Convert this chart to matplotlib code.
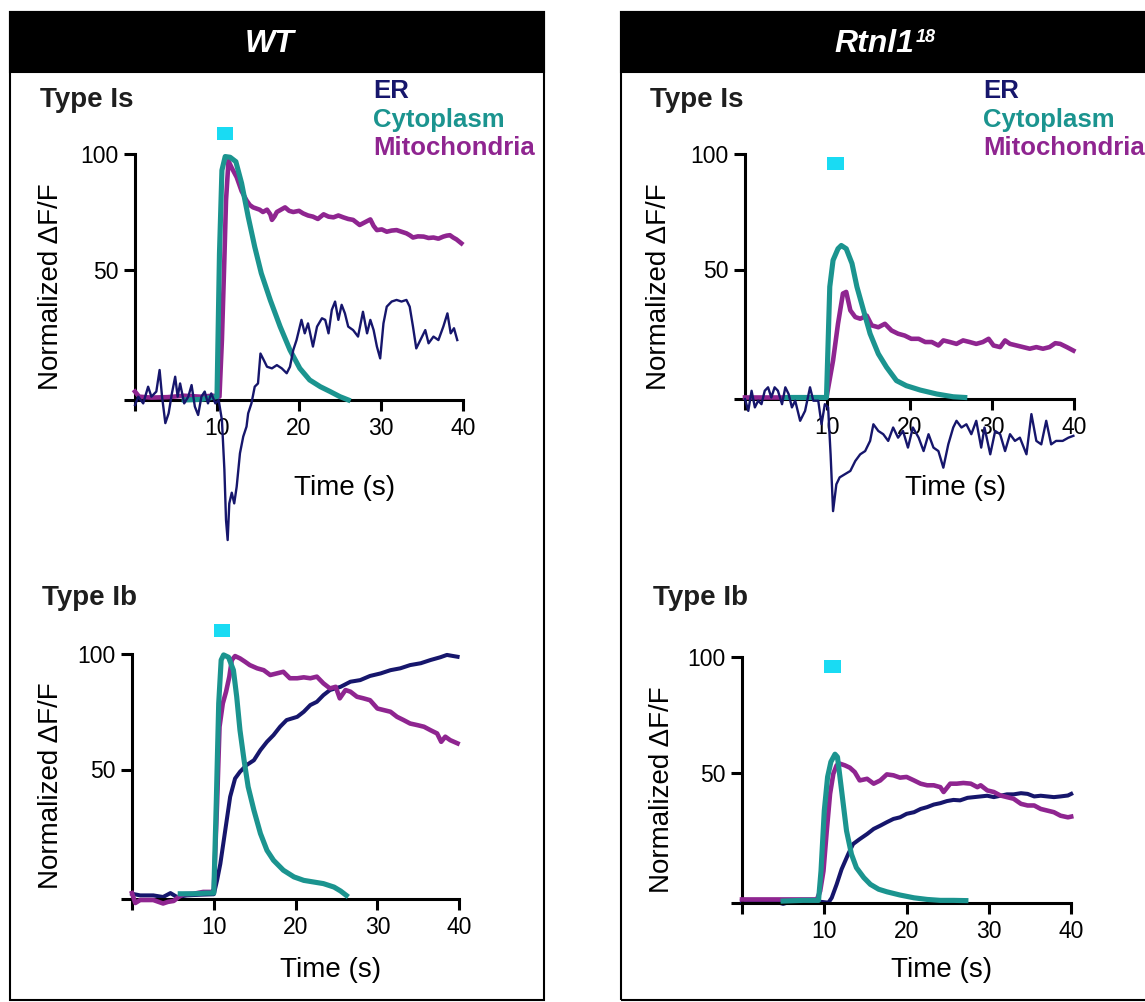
import numpy as np
import matplotlib.pyplot as plt
from matplotlib.patches import Rectangle

plt.rcParams.update({
    'font.family': ['Liberation Sans', 'DejaVu Sans'],
    'axes.spines.top': False,
    'axes.spines.right': False,
})

W, H = 1145, 1002
ER_COLOR = '#16166c'
CYTO_COLOR = '#1b948f'
MITO_COLOR = '#8f2590'
STIM_COLOR = '#19dbf3'
BASE = -6

# ---- data (time in s, normalized dF/F) ----
# WT, type Is
wt_is_er_t = [0.0, 0.4, 1.0, 1.6, 2.0, 2.6, 3.0, 3.3, 3.7, 4.1, 4.5, 4.9, 5.2, 5.5, 6.0, 6.5, 6.9, 7.3,
              7.7, 8.1, 8.5, 8.9, 9.3, 9.8, 10.2, 10.6, 10.9, 11.1, 11.3, 11.5, 11.8, 12.1, 12.4, 12.8,
              13.2, 13.6, 13.8, 14.2, 14.6, 15.0, 15.3, 15.7, 16.1, 16.7, 17.3, 17.9, 18.5, 18.9, 19.3,
              19.7, 20.3, 20.7, 21.1, 21.7, 22.2, 22.8, 23.2, 23.6, 24.0, 24.4, 24.8, 25.2, 25.6, 26.0,
              26.6, 27.2, 27.8, 28.3, 28.7, 29.1, 29.5, 29.9, 30.3, 30.7, 31.3, 31.9, 32.5, 33.1, 33.5,
              33.9, 34.3, 34.8, 35.4, 35.8, 36.4, 37.0, 37.6, 38.1, 38.5, 38.9, 39.3]
wt_is_er_v = [-8.2, -4.6, -7.5, -0.3, -4.6, -2.4, 6.9, -4.6, -16, -11.8, -3.2, 4.0, -4.6, 1.1, -7.5, -4.6,
              0.4, -8.9, -12.5, -4.6, -2.4, -7.5, -3.2, -7.5, -6, -14.7, -36, -57.8, -66.4, -50.6, -46,
              -50.6, -43.4, -29, -21.8, -17.5, -11.8, -7.5, -0.3, 1.1, 14, 11.2, 8.3, 7.6, 9, 7.6, 5.5,
              8.3, 15.5, 19.8, 28.5, 22.7, 27, 17, 25.6, 29.2, 28.5, 22.7, 32.8, 36.4, 28.5, 35, 31.3,
              25.6, 24.1, 21.3, 32, 22.7, 28.5, 24.1, 17, 11.9, 27, 34.2, 36.4, 37.1, 36.4, 37.1, 34.2,
              25.6, 16.2, 19.8, 24.1, 18.4, 21.3, 19.8, 25.6, 31.3, 22.7, 24.9, 19.8]
wt_is_cyto_t = [6.0, 8.0, 10.0, 10.3, 10.6, 11.0, 11.6, 12.3, 13.0, 13.8, 14.6, 15.4, 16.5, 17.7, 18.9,
                20.1, 21.3, 22.6, 23.8, 25.0, 26.0]
wt_is_cyto_v = [-6, -5.8, -4.6, 57, 93, 98.9, 98.6, 96.7, 87.4, 73, 60, 48.6, 37, 25.6, 15.5, 7.6, 2.6,
                -0.3, -2.4, -4.6, -6]
wt_is_mito_t = [0.0, 0.5, 2.0, 4.0, 6.0, 8.0, 9.5, 10.3, 10.6, 10.9, 11.1, 11.4, 11.8, 12.4, 13.0, 13.6,
                14.0, 14.4, 15.2, 15.6, 16.1, 16.5, 16.7, 17.0, 17.3, 17.8, 18.3, 18.8, 19.3, 20.0, 20.5,
                21.1, 21.7, 22.3, 23.0, 23.6, 24.2, 24.8, 25.4, 26.0, 26.6, 27.0, 27.4, 28.0, 28.7, 29.1,
                29.5, 30.1, 30.7, 31.3, 31.9, 32.5, 33.1, 33.5, 33.9, 34.5, 35.2, 35.8, 36.4, 37.0, 37.6,
                38.0, 38.4, 38.8, 39.2, 39.8]
wt_is_mito_v = [-2.4, -4.6, -5, -4.8, -4.2, -4.6, -4.2, -4.6, 20, 55, 80, 97, 94, 90, 84, 80, 78, 77,
                76, 75, 76, 74, 71.6, 73, 75, 76, 77, 75.5, 75, 75.5, 74.4, 73.5, 73, 72, 74, 73, 72.7,
                73.5, 72.7, 72, 71.6, 70.5, 69.4, 70.5, 71.8, 69, 67.2, 67.5, 66.5, 67, 67.2, 66.5, 65.8,
                65, 64, 64.5, 64.4, 63.8, 64, 63.5, 64.4, 64.8, 65, 64, 63.2, 61.5]

# Rtnl1, type Is
mu_is_er_t = [0.0, 0.4, 0.8, 1.2, 1.6, 2.0, 2.4, 2.8, 3.2, 3.6, 4.0, 4.5, 4.9, 5.3, 5.7, 6.1, 6.7, 7.3,
              7.9, 8.3, 8.9, 9.3, 9.7, 10.1, 10.4, 10.7, 11.1, 11.5, 12.1, 12.8, 13.4, 14.0, 14.6, 15.2,
              15.6, 16.2, 16.8, 17.4, 18.0, 18.6, 19.2, 19.8, 20.4, 21.1, 21.7, 22.3, 22.9, 23.5, 24.1,
              24.7, 25.3, 25.7, 26.3, 26.9, 27.5, 28.1, 28.7, 29.1, 29.8, 30.4, 31.0, 31.6, 32.2, 32.8,
              33.4, 34.2, 34.8, 35.4, 36.0, 36.6, 37.2, 37.8, 38.6, 39.3, 39.9]
mu_is_er_v = [-6.1, -11.2, -2.5, -9.7, -6.8, -8.3, -2.5, -1.0, -5.4, -1.0, -2.5, -8.3, -1.0, -3.9, -9.7,
              -6.8, -15.5, -11.2, -1.0, -6.8, -6.8, -17, -8.3, -9.7, -30, -54.6, -43, -40, -38.7, -37.2,
              -32.9, -30, -28.6, -24.2, -17, -19.9, -21.3, -24.2, -18.4, -22.8, -19.9, -27.1, -18.4,
              -22.8, -28.6, -21.3, -27.1, -28.6, -35.8, -25.7, -18.4, -15.5, -18.4, -17, -21.3, -15.5,
              -27.1, -18.4, -30, -19.9, -21.3, -28.6, -21.3, -24.2, -22.8, -30, -12.6, -24.2, -25.7,
              -15.5, -25.7, -24.2, -24.2, -22.8, -22]
mu_is_cyto_t = [5.0, 7.0, 9.9, 10.3, 10.7, 11.3, 11.7, 12.3, 13.0, 13.6, 14.4, 15.2, 16.2, 17.2, 18.4,
                19.6, 21.3, 23.3, 25.3, 26.7]
mu_is_cyto_v = [-5.4, -5.4, -5.4, 42.5, 54, 59, 60.4, 59, 52.6, 42.5, 32.3, 22.2, 13.5, 7.7, 1.9, -0.3,
                -2.2, -3.9, -5.1, -5.4]
mu_is_mito_t = [0.0, 3.0, 6.0, 9.9, 10.7, 11.3, 11.9, 12.3, 12.8, 13.4, 14.0, 14.8, 15.4, 16.2, 17.0,
                17.8, 18.6, 19.4, 20.2, 21.1, 21.9, 22.7, 23.5, 24.1, 24.9, 25.7, 26.5, 27.3, 28.1, 28.9,
                29.6, 30.2, 31.0, 31.6, 32.2, 33.0, 33.8, 34.6, 35.4, 36.2, 37.0, 37.7, 38.3, 39.1, 39.9]
mu_is_mito_v = [-5.4, -5.4, -5.4, -5.4, 10.6, 26.5, 39.6, 40.3, 32.3, 29.4, 28.7, 30, 25.8, 25, 26.5,
                23.6, 22.2, 21.4, 20, 20, 18.6, 18.6, 17.1, 19.3, 18.6, 17.8, 19.3, 18.6, 17.8, 18.6, 20,
                17.1, 16.4, 19.3, 17.8, 17.1, 16.4, 15.7, 16.4, 15.7, 16.4, 18.1, 17.8, 16.4, 14.9]

# WT, type Ib
wt_ib_er_t = [0.0, 1.0, 2.6, 3.8, 4.7, 5.5, 6.7, 8.3, 10.0, 10.4, 10.8, 11.4, 12.0, 12.6, 13.2, 14.0,
              14.9, 15.7, 16.5, 17.3, 18.1, 18.9, 20.2, 21.0, 21.8, 22.6, 23.4, 24.2, 25.5, 26.7, 27.9,
              29.1, 30.4, 31.6, 32.8, 34.0, 35.3, 36.5, 37.7, 38.5, 39.3, 39.8]
wt_ib_er_v = [-3.8, -4.5, -4.5, -5.2, -3.5, -5.2, -4.5, -4.2, -4, 2, 9.2, 23.7, 38.2, 46.1, 49, 51.9,
              54, 58.4, 62, 64.9, 68.5, 71.4, 72.8, 75, 77.9, 79.3, 82.2, 84.4, 85.8, 88, 88.7, 90.5,
              91.6, 93, 93.8, 95.2, 96, 97.4, 98.6, 99.6, 99.1, 98.8]
wt_ib_cyto_t = [5.9, 7.5, 9.1, 10.0, 10.3, 10.6, 10.9, 11.2, 11.8, 12.4, 12.8, 13.2, 13.7, 14.2, 14.9,
                15.7, 16.5, 17.3, 18.5, 19.8, 21.0, 22.2, 23.4, 24.7, 25.5, 26.2]
wt_ib_cyto_v = [-3.8, -3.8, -3.5, -3.5, 35.3, 78.6, 97.4, 99.6, 98.6, 93, 81.5, 67, 54, 42.5, 32.4,
                22.3, 15, 10.7, 6.4, 3.5, 2, 1.3, 0.6, -0.9, -2.6, -4.5]
wt_ib_mito_t = [0.0, 0.4, 1.0, 2.6, 3.8, 4.4, 5.1, 5.7, 6.3, 7.5, 8.7, 9.8, 10.0, 10.4, 10.7, 11.1, 11.5,
                11.9, 12.2, 12.6, 13.2, 13.8, 14.4, 15.3, 16.1, 16.9, 17.7, 18.5, 19.3, 20.2, 21.0, 21.8,
                22.6, 23.4, 24.2, 24.9, 25.4, 26.1, 26.7, 27.5, 28.3, 29.1, 30.0, 30.8, 31.6, 32.4, 33.2,
                34.0, 34.9, 35.7, 36.5, 37.3, 37.8, 38.3, 38.9, 39.8]
wt_ib_mito_v = [-3.5, -7.8, -6.5, -6.5, -8, -7.3, -6.9, -5.2, -4, -3.8, -3, -3, -2.3, 35.3, 68.5, 78.6,
                83.7, 90.2, 97.4, 99.1, 98.1, 96.7, 95.2, 93.8, 93, 90.9, 91.6, 92.3, 89.5, 89.5, 89.9,
                89.5, 90.2, 87.3, 85.1, 85.8, 80.8, 84.4, 83.7, 81.5, 80.8, 80, 76.4, 75.7, 75, 72.8,
                71.4, 69.9, 69.2, 68.5, 67, 65.6, 62, 64.2, 62.7, 61.3]

# Rtnl1, type Ib
mu_ib_er_t = [0.0, 0.9, 1.7, 3.0, 4.2, 5.0, 6.2, 7.8, 9.5, 10.5, 10.9, 11.5, 12.1, 12.9, 13.5, 14.3,
              15.2, 16.0, 16.8, 17.6, 18.4, 19.2, 20.0, 20.9, 21.7, 22.5, 23.3, 24.1, 24.9, 25.7, 26.5,
              27.4, 28.2, 29.0, 29.8, 30.6, 31.4, 32.2, 33.0, 33.9, 34.7, 35.5, 36.3, 37.1, 37.9, 38.7,
              39.6, 40.0]
mu_ib_er_v = [-5.2, -4.9, -5.6, -5.2, -5.6, -6.4, -5.2, -5.2, -5.5, -5.9, -3.8, 2, 8.5, 15, 19.4, 21.5,
              23.7, 25.9, 27.3, 28.8, 30.2, 30.9, 32.4, 33.1, 34.5, 35.3, 36.4, 37, 37.9, 38.4, 38.2,
              39.3, 39.6, 39.9, 40.2, 39.6, 40.2, 40.8, 40.8, 41.3, 41, 39.9, 40.2, 39.9, 39.6, 39.9,
              40.3, 41]
mu_ib_cyto_t = [5.0, 7.4, 9.3, 9.6, 10.0, 10.4, 10.8, 11.3, 11.6, 11.9, 12.3, 12.7, 13.3, 13.9, 14.8,
                15.6, 16.6, 17.6, 19.2, 20.9, 22.5, 24.1, 25.7, 27.2]
mu_ib_cyto_v = [-5.2, -4.9, -4.9, 7.8, 33.8, 48.3, 54.8, 58.1, 56.9, 48.3, 36.7, 25.1, 15, 9.2, 4.9, 2,
                -0.1, -1.2, -2.6, -3.8, -4.5, -4.9, -4.9, -5]
mu_ib_mito_t = [0.0, 5.0, 9.1, 9.5, 9.9, 10.3, 10.7, 11.1, 11.5, 11.9, 12.5, 13.1, 13.7, 14.3, 15.2,
                16.0, 16.8, 17.6, 18.4, 19.2, 20.0, 20.9, 21.7, 22.5, 23.3, 24.1, 24.5, 25.3, 26.1, 26.9,
                27.8, 28.6, 29.0, 29.8, 30.6, 31.4, 32.2, 33.0, 33.9, 34.7, 35.5, 36.3, 37.1, 37.9, 38.7,
                39.6, 40.0]
mu_ib_mito_v = [-4.5, -4.5, -4.5, -0.9, 7.8, 25.1, 41, 49.7, 53.3, 54, 53.3, 52.3, 50.4, 46.8, 47.5,
                45.4, 46.8, 49.4, 49, 48, 48.3, 46.8, 45.4, 44.7, 44.7, 43.9, 41.8, 45.4, 45.4, 45.7,
                45.4, 43.9, 44.7, 42.5, 41.8, 40.3, 39.6, 38.9, 36.7, 36, 36, 34.5, 33.8, 33.1, 31.6,
                30.9, 31.2]

# blue light pulse (start, end, drawn level) per panel
stim_start = [10.0, 10.0, 10.0, 10.0]
stim_end = [12.0, 12.0, 12.0, 12.0]
stim_level = [109, 96, 110, 96]

x_ticks = [0, 10, 20, 30, 40]
x_ticklabels = ['', '10', '20', '30', '40']
y_ticks = [BASE, 50, 100]
y_ticklabels = ['', '50', '100']


def fig_xy(px, py):
    return px / W, 1 - py / H


def make_axes(fig, x0, y100, sx, sy, ylim):
    xlim = (-3, 42)
    left = x0 + xlim[0] * sx
    width = (xlim[1] - xlim[0]) * sx
    top = y100 - (ylim[1] - 100) * sy
    height = (ylim[1] - ylim[0]) * sy
    ax = fig.add_axes([left / W, 1 - (top + height) / H, width / W, height / H])
    ax.set_xlim(xlim)
    ax.set_ylim(ylim)
    ax.patch.set_visible(False)
    ax.spines['left'].set_position(('data', 0))
    ax.spines['left'].set_bounds(BASE, 100)
    ax.spines['bottom'].set_position(('data', BASE))
    ax.spines['bottom'].set_bounds(0, 40)
    for s in ['left', 'bottom']:
        ax.spines[s].set_linewidth(2.2)
    ax.set_xticks(x_ticks, x_ticklabels)
    ax.set_yticks(y_ticks, y_ticklabels)
    ax.tick_params(direction='out', length=8, width=2.2, labelsize=16.5, pad=4)
    return ax


def draw_traces(ax, er, cyto, mito, er_lw, er_on_top, k):
    er_z = 5 if er_on_top else 2
    ax.plot(mito[0], mito[1], color=MITO_COLOR, lw=3.3, zorder=3, solid_joinstyle='round')
    ax.plot(cyto[0], cyto[1], color=CYTO_COLOR, lw=3.7, zorder=4, solid_joinstyle='round')
    ax.plot(er[0], er[1], color=ER_COLOR, lw=er_lw, zorder=er_z, solid_joinstyle='round')
    ax.add_patch(Rectangle((stim_start[k], stim_level[k] - 2.8), stim_end[k] - stim_start[k], 5.6,
                           color=STIM_COLOR, lw=0, zorder=6, clip_on=False))


fig = plt.figure(figsize=(W / 100, H / 100), dpi=100)

# panel frames and black headers
for left in [10, 621]:
    fig.add_artist(Rectangle(fig_xy(left, 1000), 534 / W, 988 / H, transform=fig.transFigure,
                             fill=False, ec='black', lw=1.5, zorder=0))
    fig.add_artist(Rectangle(fig_xy(left, 72), 534 / W, 60 / H, transform=fig.transFigure,
                             fc='black', ec='black', lw=1.5, zorder=0))

fig.text(*fig_xy(270, 44), 'WT', color='white', fontsize=23, fontweight='bold', style='italic',
         ha='center', va='center')
fig.text(*fig_xy(914, 44), 'Rtnl1', color='white', fontsize=23, fontweight='bold', style='italic',
         ha='right', va='center')
fig.text(*fig_xy(916, 38), '18', color='white', fontsize=13, fontweight='bold', style='italic',
         ha='left', va='center')

ax_tl = make_axes(fig, 135, 154, 8.2, 2.32, (-72, 114))
draw_traces(ax_tl, (wt_is_er_t, wt_is_er_v), (wt_is_cyto_t, wt_is_cyto_v),
            (wt_is_mito_t, wt_is_mito_v), 1.7, True, 0)
ax_tr = make_axes(fig, 745, 154, 8.23, 2.31, (-72, 114))
draw_traces(ax_tr, (mu_is_er_t, mu_is_er_v), (mu_is_cyto_t, mu_is_cyto_v),
            (mu_is_mito_t, mu_is_mito_v), 1.7, True, 1)
ax_bl = make_axes(fig, 132, 654, 8.18, 2.31, (-15, 114))
draw_traces(ax_bl, (wt_ib_er_t, wt_ib_er_v), (wt_ib_cyto_t, wt_ib_cyto_v),
            (wt_ib_mito_t, wt_ib_mito_v), 2.9, False, 2)
ax_br = make_axes(fig, 742, 657, 8.23, 2.32, (-15, 114))
draw_traces(ax_br, (mu_ib_er_t, mu_ib_er_v), (mu_ib_cyto_t, mu_ib_cyto_v),
            (mu_ib_mito_t, mu_ib_mito_v), 2.9, False, 3)

# axis titles
for (px, py) in [(345, 488), (956, 488), (331, 970), (942, 970)]:
    fig.text(*fig_xy(px, py), 'Time (s)', fontsize=20, ha='center', va='center')
for (px, py) in [(51, 287), (659, 287), (51, 786), (662, 790)]:
    fig.text(*fig_xy(px, py), 'Normalized ΔF/F', fontsize=20, rotation=90, ha='center', va='center')

# bouton type labels
for (px, py), lab in zip([(40, 100), (650, 100), (42, 598), (653, 598)],
                         ['Type Is', 'Type Is', 'Type Ib', 'Type Ib']):
    fig.text(*fig_xy(px, py), lab, fontsize=20, fontweight='bold', color='#1e1e1e',
             ha='left', va='center')

# compartment key
for left in [373, 983]:
    for dy, lab, col in zip([91, 119.5, 148], ['ER', 'Cytoplasm', 'Mitochondria'],
                            [ER_COLOR, CYTO_COLOR, MITO_COLOR]):
        fig.text(*fig_xy(left, dy), lab, fontsize=18.5, fontweight='bold', color=col,
                 ha='left', va='center')

fig.savefig('out.png', dpi=100)
